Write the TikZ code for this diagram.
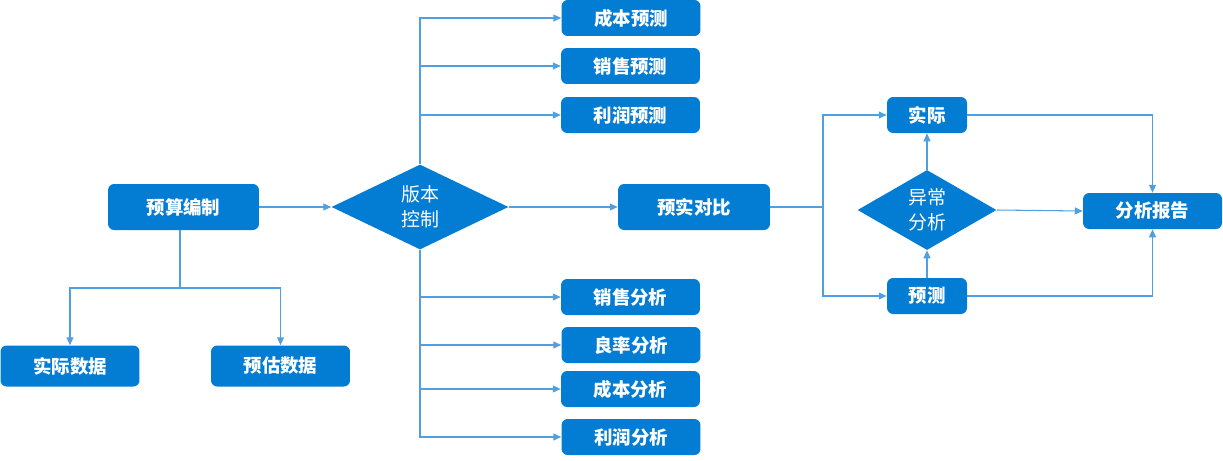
\documentclass[tikz,border=0pt]{standalone}
\usepackage{fontspec}
\setmainfont{Noto Sans CJK SC}
\usetikzlibrary{shapes.geometric,arrows.meta}
\definecolor{boxblue}{RGB}{3,124,212}
\definecolor{lineblue}{RGB}{80,160,225}

\begin{document}
\begin{tikzpicture}[x=0.02cm, y=-0.02cm,
  box/.style={rectangle, rounded corners=3.5pt, fill=boxblue, text=white, inner sep=0pt,
    font=\bfseries\fontsize{10.5}{12}\selectfont, minimum width=2.78cm, minimum height=0.72cm},
  dec/.style={diamond, fill=boxblue, text=white, inner sep=0pt, align=center,
    font=\fontsize{10.8}{14}\selectfont},
  line/.style={draw=lineblue, line width=0.6pt},
  arr/.style={line, -{Triangle[length=4.5pt,width=4pt]}}]
  \useasboundingbox (0,0) rectangle (1223,460);

  % left part
  \node[box, minimum width=3.02cm, minimum height=0.92cm] (n0) at (183.5,207) {预算编制};
  \node[box, minimum height=0.82cm] (n1) at (70,366) {实际数据};
  \node[box, minimum height=0.82cm] (n2) at (280.5,366) {预估数据};

  \node[dec, minimum width=3.54cm, minimum height=1.7cm] (d1) at (420,207) {版本\\控制};

  % forecasts
  \node[box] (p1) at (631,18)  {成本预测};
  \node[box] (p2) at (630.5,66) {销售预测};
  \node[box] (p3) at (630.5,115) {利润预测};

  % analyses
  \node[box] (q1) at (630.5,297) {销售分析};
  \node[box] (q2) at (631,345) {良率分析};
  \node[box] (q3) at (630.5,389) {成本分析};
  \node[box] (q4) at (631,437) {利润分析};

  \node[box, minimum width=3.04cm, minimum height=0.92cm] (c1) at (694,207) {预实对比};

  % right part
  \node[box, minimum width=1.6cm] (a1) at (927,115) {实际};
  \node[box, minimum width=1.6cm] (a2) at (927,296) {预测};
  \node[dec, minimum width=2.78cm, minimum height=1.28cm] (d2) at (927,210) {异常\\分析};
  \node[box] (r1) at (1152.5,211) {分析报告};

  \coordinate (j0) at (180,288);
  \coordinate (j1) at (823,207);

  \draw[line] (j0 |- n0.south) -- (j0);
  \draw[arr] (j0) -| (n1.north);
  \draw[arr] (j0) -| (n2.north);
  \draw[arr] (n0.east) -- (d1.west);

  \draw[arr] (d1.north) |- (p1.west);
  \draw[arr] (d1.north) |- (p2.west);
  \draw[arr] (d1.north) |- (p3.west);
  \draw[arr] (d1.south) |- (q1.west);
  \draw[arr] (d1.south) |- (q2.west);
  \draw[arr] (d1.south) |- (q3.west);
  \draw[arr] (d1.south) |- (q4.west);
  \draw[arr] (d1.east) -- (c1.west);

  \draw[line] (c1.east) -- (j1);
  \draw[arr] (j1) |- (a1.west);
  \draw[arr] (j1) |- (a2.west);
  \draw[arr] (a2.north) -- (d2.south);
  \draw[arr] (d2.north) -- (a1.south);
  \draw[arr] (d2.east) -- (r1.west);
  \draw[arr] (a1.east) -| (r1.north);
  \draw[arr] (a2.east) -| (r1.south);
\end{tikzpicture}
\end{document}
